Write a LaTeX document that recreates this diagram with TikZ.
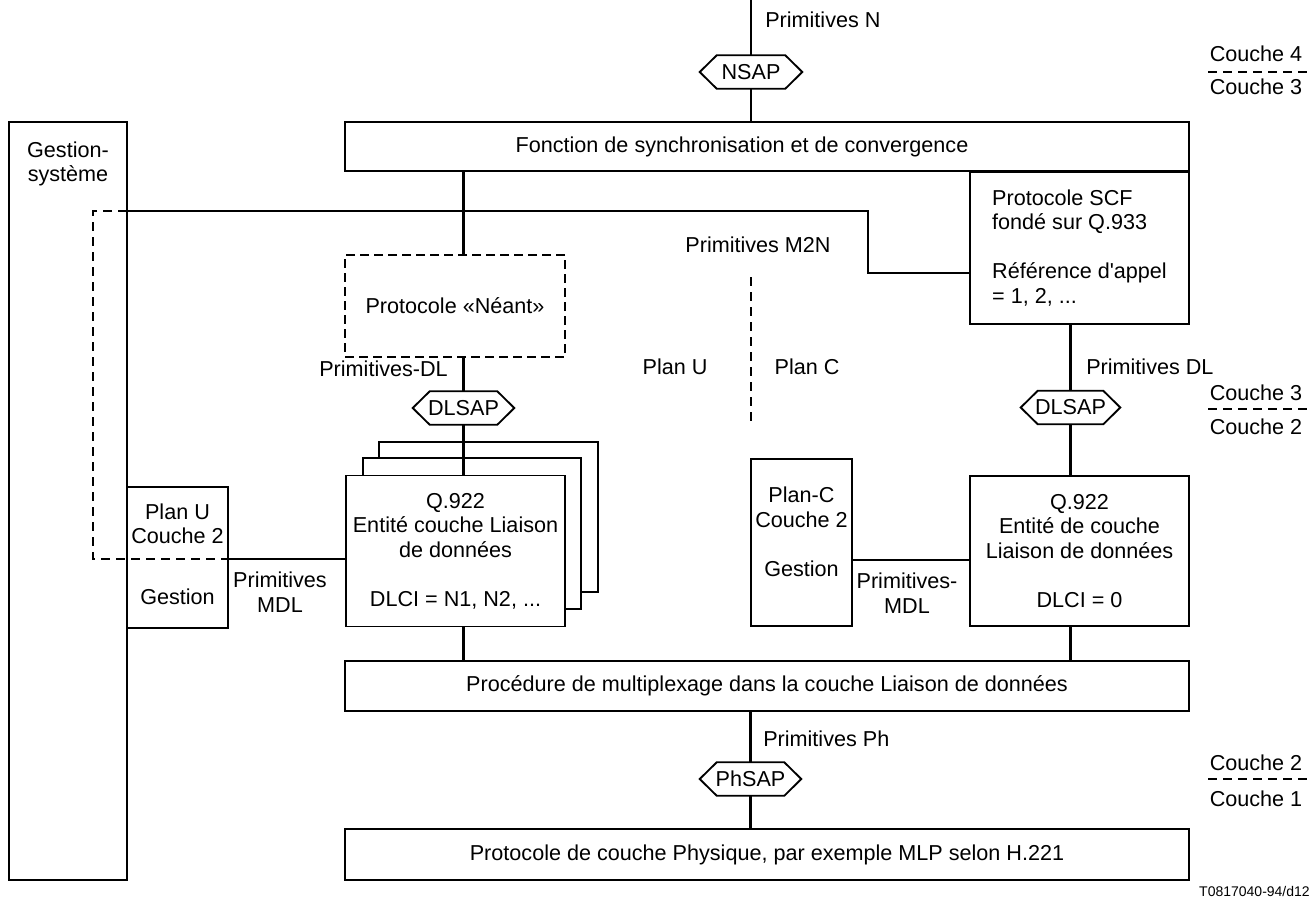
\documentclass[tikz,border=0pt]{standalone}
\usepackage{fontspec}
\setmainfont{Liberation Sans}
\newdimen\px \px=0.75pt
\newcommand\txtf{\fontsize{16.2pt}{18.4pt}\selectfont}
\newcommand\smallf{\fontsize{10.5pt}{12pt}\selectfont}

\begin{document}
\begin{tikzpicture}[x=0.75pt,y=-0.75pt,
  txt/.style={font=\txtf, inner sep=0pt, align=center},
  box/.style={draw, line width=1.1pt, fill=white, inner sep=0pt, align=center, font=\txtf},
  dbox/.style={box, dashed, dash pattern=on 9\px off 5\px},
  sapbox/.style={minimum width=#1, minimum height=33\px, inner sep=0pt, font=\txtf},
  hexline/.style={line width=1.4pt},
  conn/.style={line width=1.6pt},
  dconn/.style={line width=1.6pt, dash pattern=on 9\px off 6\px},
  sep/.style={line width=1.4pt, dash pattern=on 9\px off 6\px}]

\path[use as bounding box] (0,0) rectangle (1316,897);

% Gestion-systeme column
\node[box, minimum width=118\px, minimum height=758\px] (gs) at (68,501) {};
\node[txt] (gstxt) at (68,164) {Gestion-\\système};

% upper layer 3 blocks
\node[box, minimum width=844\px, minimum height=49\px] (sync) at (767,146.5) {};
\node[txt] (synctxt) at (742,146.5) {Fonction de synchronisation et de convergence};
\node[box, align=left, minimum width=219\px, minimum height=152\px] (scf) at (1079.5,248)
  {Protocole SCF\\fondé sur Q.933\\[18.4pt]Référence d\textquotesingle appel\\= 1, 2, ...};
\node[dbox, minimum width=220\px, minimum height=102\px] (neant) at (455,306)
  {Protocole «Néant»};

% service access points
\node[sapbox=102\px] (nsap) at (751,72) {NSAP};
\node[sapbox=101\px] (dlsapu) at (463.5,408) {DLSAP};
\node[sapbox=99\px] (dlsapc) at (1070.5,407.5) {DLSAP};
\node[sapbox=101\px] (phsap) at (750.5,779) {PhSAP};
\foreach \n in {nsap,dlsapu,dlsapc,phsap}{
  \draw[hexline] (\n.west) -- ([xshift=17\px]\n.north west) -- ([xshift=-17\px]\n.north east)
    -- (\n.east) -- ([xshift=-17\px]\n.south east) -- ([xshift=17\px]\n.south west) -- cycle;
}

% layer 2 entities (user plane: stacked instances)
\node[box, minimum width=219\px, minimum height=150\px] (q3) at (488.5,517) {};
\node[box, minimum width=218\px, minimum height=151\px] (q2) at (472,533.5) {};
\node[box, minimum width=219\px, minimum height=151\px] (qu) at (455.5,551)
  {Q.922\\Entité couche Liaison\\de données\\[18.4pt]DLCI = N1, N2, ...};
\node[box, minimum width=219\px, minimum height=150\px] (qc) at (1079.5,551)
  {Q.922\\Entité de couche\\Liaison de données\\[18.4pt]DLCI = 0};

% layer 2 management
\node[box, minimum width=101\px, minimum height=141\px] (planu) at (177.5,557.5) {};
\node[txt] (planutxt) at (177.5,524) {Plan U\\Couche 2};
\node[txt] (gestu) at (177.5,597) {Gestion};
\node[box, minimum width=101\px, minimum height=167\px] (planc) at (801.5,542.5) {};
\node[txt] (planctxt) at (801.5,532) {Plan-C\\Couche 2\\[18.4pt]Gestion};

% lower blocks
\node[box, minimum width=844\px, minimum height=50\px] (mux) at (767,686)
  {Procédure de multiplexage dans la couche Liaison de données};
\node[box, minimum width=844\px, minimum height=51\px] (phys) at (767,854.5)
  {Protocole de couche Physique, par exemple MLP selon H.221};

% connectors
\coordinate (ntop) at (751,0);
\draw[conn] (ntop) -- (nsap.north);
\draw[conn] (nsap.south) -- (nsap.south |- sync.north);
\draw[conn] (dlsapu |- sync.south) -- (dlsapu |- neant.north);
\draw[conn] (dlsapu |- neant.south) -- (dlsapu.north);
\draw[conn] (dlsapu.south) -- (dlsapu |- qu.north);
\draw[conn] (dlsapu |- qu.south) -- (dlsapu |- mux.north);
\draw[conn] (dlsapc |- scf.south) -- (dlsapc.north);
\draw[conn] (dlsapc.south) -- (dlsapc |- qc.north);
\draw[conn] (dlsapc |- qc.south) -- (dlsapc |- mux.north);
\draw[conn] (phsap |- mux.south) -- (phsap.north);
\draw[conn] (phsap.south) -- (phsap |- phys.north);

% management primitives
\coordinate (mu) at (228,559);
\coordinate (mc) at (852,560);
\draw[conn] (mu) -- (mu -| qu.west);
\draw[conn] (mc) -- (mc -| qc.west);

% system management line towards the signalling protocol
\coordinate (gsr) at (127,211);
\coordinate (k1) at (868,211);
\coordinate (k2) at (868,273);
\draw[conn] (gsr) -- (k1) -- (k2) -- (k2 -| scf.west);
\coordinate (d1) at (93,211);
\coordinate (d2) at (93,559);
\draw[dconn] (gsr) -- (d1) -- (d2) -- (mu);

% U / C plane separation
\coordinate (pt) at (751,277);
\coordinate (pb) at (751,425);
\draw[dconn] (pt) -- (pb);

% labels
\node[txt, anchor=west] (lpn) at (765,20) {Primitives N};
\node[txt] (lm2n) at (758,245) {Primitives M2N};
\node[txt, anchor=east] (ldlu) at (448,369) {Primitives-DL};
\node[txt] (lplu) at (675,367) {Plan U};
\node[txt] (lplc) at (807,367) {Plan C};
\node[txt, anchor=west] (ldlc) at (1086,367) {Primitives DL};
\node[txt] (lmdlu) at (280,592) {Primitives\\MDL};
\node[txt] (lmdlc) at (907,593) {Primitives-\\MDL};
\node[txt, anchor=west] (lph) at (763,739) {Primitives Ph};

% layer boundaries
\node[txt] (c4) at (1256,54) {Couche 4};
\node[txt] (c3a) at (1256,87) {Couche 3};
\coordinate (s1a) at (1208,72); \coordinate (s1b) at (1310,72);
\draw[sep] (s1a) -- (s1b);
\node[txt] (c3b) at (1256,393) {Couche 3};
\node[txt] (c2a) at (1256,427) {Couche 2};
\coordinate (s2a) at (1208,409); \coordinate (s2b) at (1310,409);
\draw[sep] (s2a) -- (s2b);
\node[txt] (c2b) at (1256,763) {Couche 2};
\node[txt] (c1) at (1256,799) {Couche 1};
\coordinate (s3a) at (1208,779); \coordinate (s3b) at (1310,779);
\draw[sep] (s3a) -- (s3b);

\node[font=\smallf, inner sep=0pt, anchor=east] (ref) at (1310,891) {T0817040-94/d12};
\end{tikzpicture}
\end{document}
